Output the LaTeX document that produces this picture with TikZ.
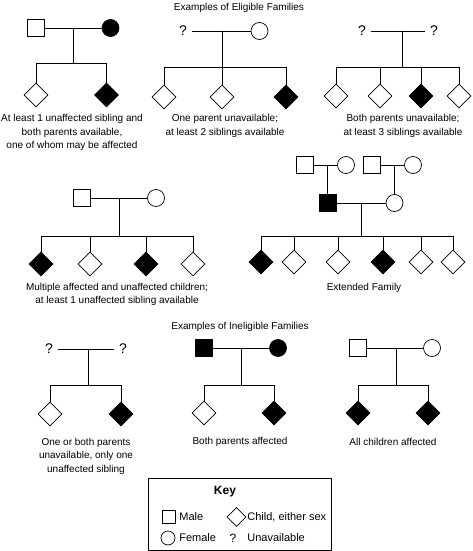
\documentclass[tikz,border=0pt]{standalone}
\usepackage{fontspec}
\setmainfont{Liberation Sans}
\usetikzlibrary{shapes.geometric}
\newcommand\sizeMale{17}
\newcommand\sizeKid{24}
\newcommand\drawSibship[2]{
	\foreach \k in {#2}{
		\draw (\k.north) |- (#1);
	}
}
\tikzset{
	male/.style={draw, rectangle, minimum size=\sizeMale pt, inner sep=0pt},
	female/.style={draw, circle, minimum size=\sizeMale pt, inner sep=0pt},
	kid/.style={draw, diamond, minimum size=\sizeKid pt, inner sep=0pt},
	aff/.style={fill=black},
	unk/.style={inner xsep=4.5pt, inner ysep=0pt, font=\fontsize{14}{14}\selectfont},
	caption/.style={align=center, inner sep=0pt, font=\fontsize{10}{13.5}\selectfont},
	keylabel/.style={anchor=west, inner sep=0pt, font=\fontsize{11}{13}\selectfont}
}
\begin{document}
\begin{tikzpicture}[x=1pt, y=-1pt, line width=0.7pt]
	\useasboundingbox (0,0) rectangle (472,551);

	\node[caption] (titleElig) at (239,8) {Examples of Eligible Families};

	% both parents available
	\node[male] (famAm) at (36,28) {};
	\node[female, aff] (famAf) at (110.5,28) {};
	\node[kid] (famAa) at (36,95) {};
	\node[kid, aff] (famAb) at (106.5,95) {};
	\coordinate (famAc) at (73,28);
	\coordinate (famAs) at (73,63);
	\draw (famAm) -- (famAf);
	\draw (famAc) -- (famAs);
	\drawSibship{famAs}{famAa,famAb}
	\node[caption] (capA) at (72,132.5) {At least 1 unaffected sibling and\\both parents available,\\one of whom may be affected};

	% one parent unavailable
	\node[unk] (famBu) at (183,31) {?};
	\node[female] (famBf) at (259.5,31) {};
	\node[kid] (famBa) at (164,97) {};
	\node[kid] (famBb) at (222,97) {};
	\node[kid, aff] (famBc) at (286,97) {};
	\coordinate (famBx) at (222,31);
	\coordinate (famBs) at (222,67);
	\draw (famBu) -- (famBf);
	\draw (famBx) -- (famBs);
	\drawSibship{famBs}{famBa,famBb,famBc}
	\node[caption] (capB) at (225,126) {One parent unavailable;\\at least 2 siblings available};

	% both parents unavailable
	\node[unk] (famCu) at (362,31) {?};
	\node[unk] (famCv) at (434,31) {?};
	\node[kid] (famCa) at (336,96) {};
	\node[kid] (famCb) at (380,96) {};
	\node[kid, aff] (famCc) at (421,96) {};
	\node[kid] (famCd) at (459,96) {};
	\coordinate (famCx) at (402,31);
	\coordinate (famCs) at (402,67);
	\draw (famCu) -- (famCv);
	\draw (famCx) -- (famCs);
	\drawSibship{famCs}{famCa,famCb,famCc,famCd}
	\node[caption] (capC) at (403,126) {Both parents unavailable;\\at least 3 siblings available};

	% multiple affected
	\node[male] (famDm) at (82,198) {};
	\node[female] (famDf) at (156,198) {};
	\node[kid, aff] (famDa) at (41,264) {};
	\node[kid] (famDb) at (90,264) {};
	\node[kid, aff] (famDc) at (146,264) {};
	\node[kid] (famDd) at (193,264) {};
	\coordinate (famDx) at (119,198);
	\coordinate (famDs) at (119,236);
	\draw (famDm) -- (famDf);
	\draw (famDx) -- (famDs);
	\drawSibship{famDs}{famDa,famDb,famDc,famDd}
	\node[caption] (capD) at (117,294.5) {Multiple affected and unaffected children;\\at least 1 unaffected sibling available};

	% extended family
	\node[male] (famEgm) at (305,165) {};
	\node[female] (famEgf) at (346,165) {};
	\node[male] (famEhm) at (372,165) {};
	\node[female] (famEhf) at (413,165) {};
	\node[male, aff] (famEm) at (327.5,203) {};
	\node[female] (famEf) at (394.5,203) {};
	\coordinate (famEgx) at (327.5,165);
	\coordinate (famEhx) at (394.5,165);
	\draw (famEgm) -- (famEgf);
	\draw (famEhm) -- (famEhf);
	\draw (famEgx) -- (famEm);
	\draw (famEhx) -- (famEf);
	\node[kid, aff] (famEa) at (261,262) {};
	\node[kid] (famEb) at (294,262) {};
	\node[kid] (famEc) at (338,262) {};
	\node[kid, aff] (famEd) at (383,262) {};
	\node[kid] (famEe) at (421,262) {};
	\node[kid] (famEk) at (453,262) {};
	\coordinate (famEx) at (361,203);
	\coordinate (famEs) at (361,236);
	\draw (famEm) -- (famEf);
	\draw (famEx) -- (famEs);
	\drawSibship{famEs}{famEa,famEb,famEc,famEd,famEe,famEk}
	\node[caption] (capE) at (364,288) {Extended Family};

	\node[caption] (titleInel) at (240,327) {Examples of Ineligible Families};

	% only one unaffected sibling
	\node[unk] (famFu) at (49,349) {?};
	\node[unk] (famFv) at (123,349) {?};
	\node[kid] (famFa) at (50,414) {};
	\node[kid, aff] (famFb) at (121,414) {};
	\coordinate (famFx) at (88,349);
	\coordinate (famFs) at (88,385);
	\draw (famFu) -- (famFv);
	\draw (famFx) -- (famFs);
	\drawSibship{famFs}{famFa,famFb}
	\node[caption] (capF) at (86,456) {One or both parents\\unavailable, only one\\unaffected sibling};

	% both parents affected
	\node[male, aff] (famGm) at (204,348) {};
	\node[female, aff] (famGf) at (278,348) {};
	\node[kid] (famGa) at (204,413) {};
	\node[kid, aff] (famGb) at (274,413) {};
	\coordinate (famGx) at (241,348);
	\coordinate (famGs) at (241,385);
	\draw (famGm) -- (famGf);
	\draw (famGx) -- (famGs);
	\drawSibship{famGs}{famGa,famGb}
	\node[caption] (capG) at (240,442) {Both parents affected};

	% all children affected
	\node[male] (famHm) at (358,348) {};
	\node[female] (famHf) at (432,348) {};
	\node[kid, aff] (famHa) at (358,413) {};
	\node[kid, aff] (famHb) at (428,413) {};
	\coordinate (famHx) at (396,348);
	\coordinate (famHs) at (396,385);
	\draw (famHm) -- (famHf);
	\draw (famHx) -- (famHs);
	\drawSibship{famHs}{famHa,famHb}
	\node[caption] (capH) at (393,442) {All children affected};

	% key
	\draw (148,478) rectangle (331,550);
	\node[font=\fontsize{12}{12}\selectfont\bfseries] (keyTitle) at (225,492) {Key};
	\node[male, minimum size=13pt] (keyMale) at (169,517) {};
	\node[keylabel] (keyMaleTxt) at (179,517) {Male};
	\node[kid, minimum size=19pt] (keyKid) at (236.5,517) {};
	\node[keylabel] (keyKidTxt) at (247,517) {Child, either sex};
	\node[female, minimum size=14pt] (keyFemale) at (168,538) {};
	\node[keylabel] (keyFemaleTxt) at (179,538) {Female};
	\node[font=\fontsize{12}{12}\selectfont, inner sep=0pt] (keyUnk) at (233,538) {?};
	\node[keylabel] (keyUnkTxt) at (247,538) {Unavailable};
\end{tikzpicture}
\end{document}
